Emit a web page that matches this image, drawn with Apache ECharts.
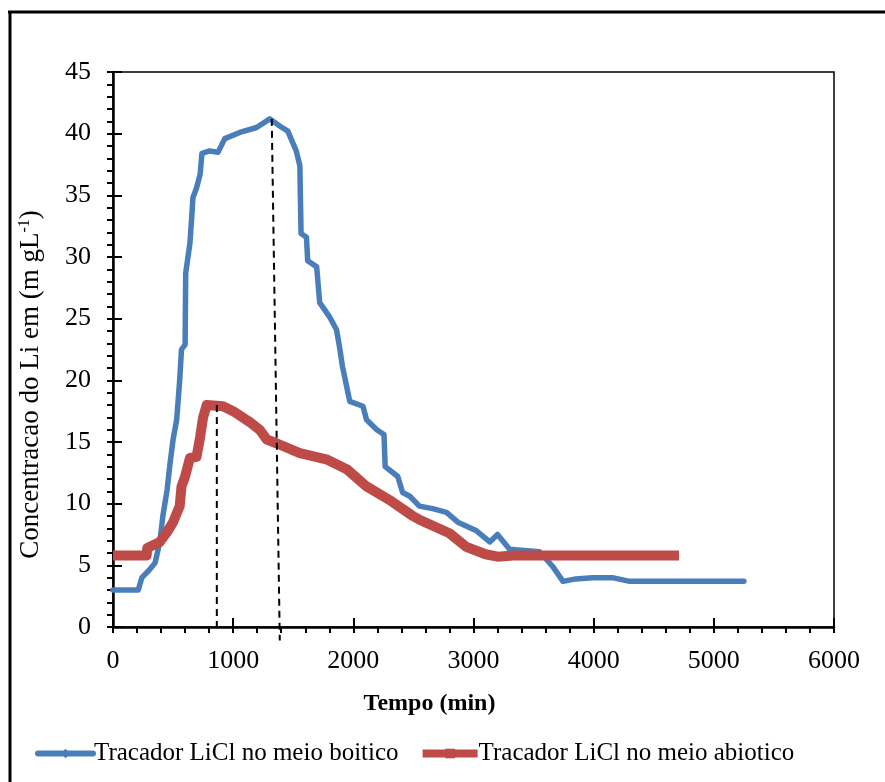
<!DOCTYPE html>
<html>
<head>
<meta charset="utf-8">
<script src="https://cdn.jsdelivr.net/npm/echarts@6/dist/echarts.min.js"></script>
<style>
  html, body { margin: 0; padding: 0; background: #fff; }
  #chart { width: 885px; height: 782px; }
</style>
</head>
<body>
<div id="chart"></div>
<script>
// Tracer LiCl concentration over time (biotic vs abiotic medium)
const bioTime = [0, 100, 210, 240, 300, 350, 390, 415, 450, 475, 500, 530, 555, 570, 600, 605, 640, 655, 665, 695, 725, 740, 805, 875, 930, 1055, 1195, 1305, 1390, 1455, 1490, 1525, 1555, 1565, 1610, 1620, 1695, 1720, 1805, 1860, 1885, 1910, 1955, 1970, 2080, 2110, 2195, 2255, 2265, 2370, 2410, 2470, 2550, 2660, 2775, 2870, 3025, 3135, 3200, 3300, 3420, 3550, 3660, 3745, 3850, 3990, 4155, 4300, 4700, 5250];
const bioConc = [3.0, 3.0, 3.0, 4.0, 4.6, 5.2, 6.9, 9.0, 11.1, 13.3, 15.2, 16.8, 20.0, 22.5, 22.9, 28.7, 31.1, 33.2, 34.8, 35.6, 36.7, 38.4, 38.6, 38.5, 39.6, 40.1, 40.5, 41.2, 40.6, 40.2, 39.4, 38.6, 37.4, 31.9, 31.6, 29.7, 29.2, 26.3, 25.1, 24.1, 22.7, 21.1, 19.0, 18.3, 17.9, 16.8, 16.0, 15.6, 13.0, 12.2, 10.9, 10.6, 9.8, 9.6, 9.3, 8.5, 7.8, 6.9, 7.5, 6.3, 6.2, 6.1, 4.9, 3.7, 3.9, 4.0, 4.0, 3.7, 3.7, 3.7];

const abioTime = [0, 280, 285, 390, 450, 500, 555, 570, 600, 640, 695, 725, 750, 780, 915, 1000, 1140, 1220, 1280, 1360, 1555, 1775, 1945, 2110, 2300, 2495, 2550, 2800, 2940, 3100, 3200, 3330, 4710];
const abioConc = [5.8, 5.8, 6.4, 6.9, 7.7, 8.5, 9.8, 11.4, 12.2, 13.7, 13.8, 15.4, 17.0, 18.0, 17.9, 17.5, 16.6, 16.0, 15.2, 14.9, 14.1, 13.6, 12.8, 11.4, 10.3, 9.0, 8.7, 7.6, 6.5, 5.9, 5.7, 5.8, 5.8];

// Guide lines dropped from each peak to the time axis
const guideBio = [[1321, 41.2], [1388, -1.1]];
const guideAbio = [[864, 18.0], [864, 0]];

const seriesNames = ['Tracador LiCl no meio boitico', 'Tracador LiCl no meio abiotico'];
const xTicks = [0, 1000, 2000, 3000, 4000, 5000, 6000];
const yTicks = [0, 5, 10, 15, 20, 25, 30, 35, 40, 45];

const BLUE = '#4a7ebb';
const RED = '#be4b48';
const zip = (a, b) => a.map((v, i) => [v, b[i]]);
const FONT = 'Liberation Serif';

const chart = echarts.init(document.getElementById('chart'));
chart.setOption({
  animation: false,
  backgroundColor: '#fff',
  textStyle: { fontFamily: FONT, color: '#000' },
  grid: {
    left: 113, right: 51, top: 72, bottom: 155,
    show: true, borderColor: '#000', borderWidth: 1.5
  },
  legend: {
    left: 30, top: 736,
    itemWidth: 55, itemHeight: 12, itemGap: 20,
    textStyle: { fontFamily: FONT, fontSize: 25, color: '#000', padding: [0, 0, 0, -4] },
    data: [
      { name: seriesNames[0], lineStyle: { width: 6, color: BLUE } },
      { name: seriesNames[1], lineStyle: { width: 8, color: RED } }
    ]
  },
  xAxis: [{
    type: 'value', position: 'bottom',
    min: xTicks[0], max: xTicks[xTicks.length - 1], interval: 1000,
    name: 'Tempo (min)', nameLocation: 'middle', nameGap: 65,
    nameTextStyle: { fontFamily: FONT, fontSize: 24, fontWeight: 'bold', color: '#000', padding: [0, 88, 0, 0] },
    axisLine: { lineStyle: { color: '#000', width: 2.5 } },
    axisTick: { show: true, inside: false, length: 6, lineStyle: { color: '#000', width: 2 } },
    minorTick: { show: true, splitNumber: 5, length: 6, lineStyle: { color: '#000', width: 2 } },
    axisLabel: { margin: 21, fontFamily: FONT, fontSize: 26, color: '#000', formatter: v => String(v) },
    splitLine: { show: false }
  }, {
    type: 'value', position: 'bottom',
    min: xTicks[0], max: xTicks[xTicks.length - 1], interval: 1000,
    axisLine: { show: false },
    axisTick: { show: true, inside: true, length: 9, lineStyle: { color: '#000', width: 2 } },
    axisLabel: { show: false },
    splitLine: { show: false }
  }],
  yAxis: [{
    type: 'value', position: 'left',
    min: yTicks[0], max: yTicks[yTicks.length - 1], interval: 5,
    name: 'Concentracao do Li em (m gL{sup|-1})', nameLocation: 'middle', nameGap: 68,
    nameTextStyle: {
      fontFamily: FONT, fontSize: 27, color: '#000', padding: [0, 70, 0, 0],
      rich: { sup: { fontFamily: FONT, fontSize: 16, color: '#000', verticalAlign: 'top', padding: [0, 0, 12, 0] } }
    },
    axisLine: { lineStyle: { color: '#000', width: 2.5 } },
    axisTick: { show: true, inside: false, length: 6, lineStyle: { color: '#000', width: 2 } },
    minorTick: { show: true, splitNumber: 5, length: 6, lineStyle: { color: '#000', width: 2 } },
    axisLabel: { margin: 22, fontFamily: FONT, fontSize: 26, color: '#000' },
    splitLine: { show: false }
  }, {
    type: 'value', position: 'left',
    min: yTicks[0], max: yTicks[yTicks.length - 1], interval: 5,
    axisLine: { show: false },
    axisTick: { show: true, inside: true, length: 9, lineStyle: { color: '#000', width: 2 } },
    axisLabel: { show: false },
    splitLine: { show: false }
  }],
  series: [
    {
      name: seriesNames[0], type: 'line',
      data: zip(bioTime, bioConc),
      symbol: 'diamond', symbolSize: 8, showSymbol: false,
      lineStyle: { color: BLUE, width: 5.5, join: 'round', cap: 'round' },
      itemStyle: { color: BLUE },
      z: 3
    },
    {
      name: seriesNames[1], type: 'line',
      data: zip(abioTime, abioConc),
      symbol: 'rect', symbolSize: 9, showSymbol: false,
      lineStyle: { color: RED, width: 10, join: 'round' },
      itemStyle: { color: RED },
      z: 4
    },
    {
      name: 'guide-bio', type: 'line', data: guideBio, symbol: 'none', clip: false,
      lineStyle: { color: '#000', width: 2, type: [7, 5] }, silent: true, z: 5
    },
    {
      name: 'guide-abio', type: 'line', data: guideAbio, symbol: 'none', clip: false,
      lineStyle: { color: '#000', width: 2, type: [7, 5] }, silent: true, z: 5
    }
  ],
  graphic: [
    { type: 'line', shape: { x1: 8, y1: 12, x2: 885, y2: 12 }, style: { stroke: '#000', lineWidth: 3 } },
    { type: 'line', shape: { x1: 10, y1: 11, x2: 10, y2: 782 }, style: { stroke: '#000', lineWidth: 3 } }
  ]
});
</script>
</body>
</html>
